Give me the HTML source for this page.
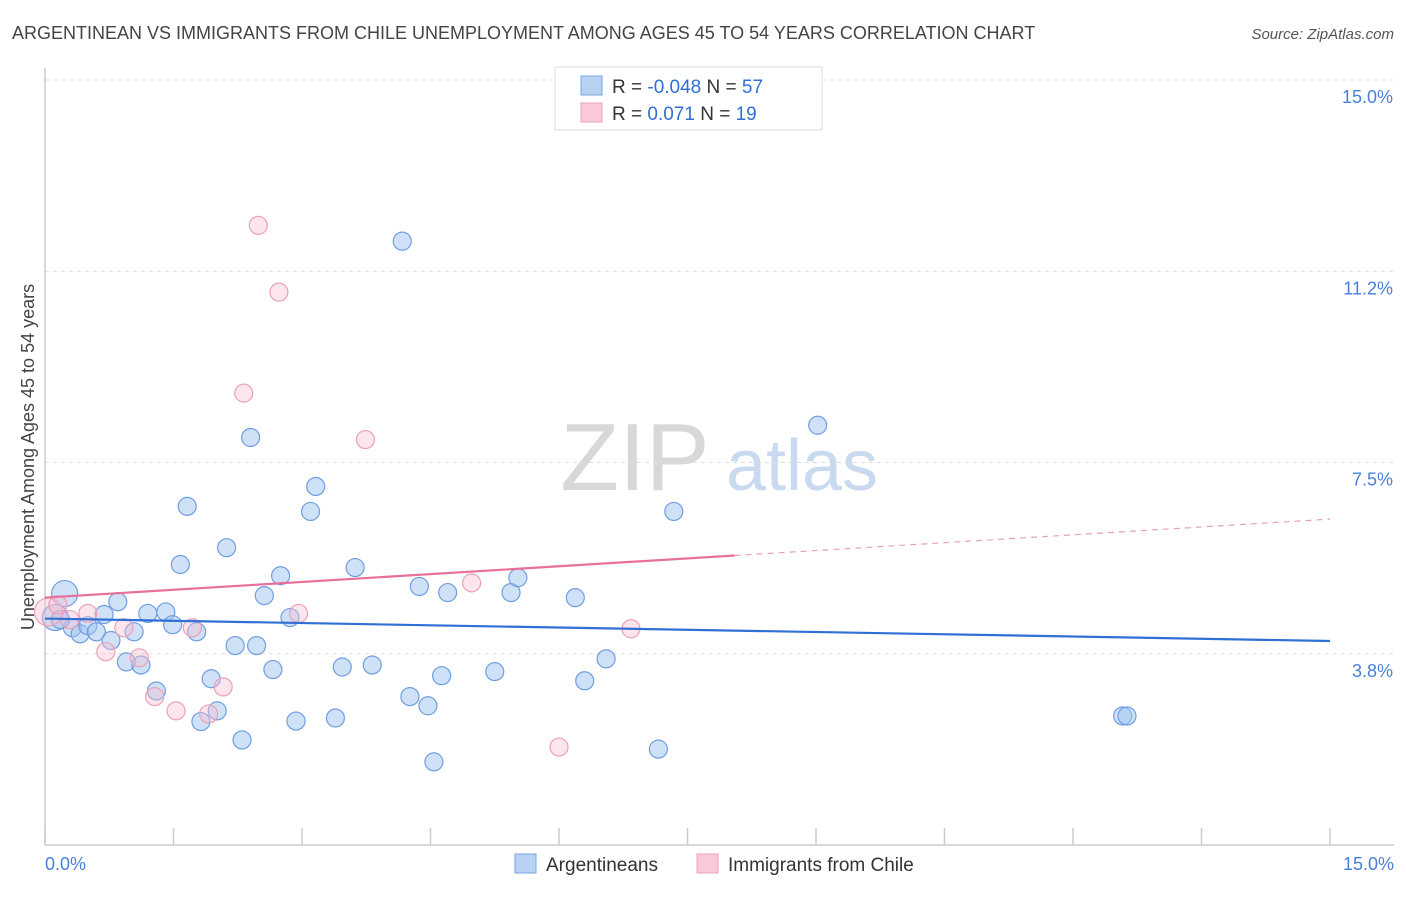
<!DOCTYPE html>
<html><head><meta charset="utf-8">
<style>
body{margin:0;background:#fff;font-family:"Liberation Sans",sans-serif;}
svg text{font-family:"Liberation Sans",sans-serif;}
</style></head>
<body>
<svg id="chart" width="1406" height="892" viewBox="0 0 1406 892" xmlns="http://www.w3.org/2000/svg">
<text x="12" y="39" font-size="18" fill="#444">ARGENTINEAN VS IMMIGRANTS FROM CHILE UNEMPLOYMENT AMONG AGES 45 TO 54 YEARS CORRELATION CHART</text>
<text x="1394" y="39" font-size="15" fill="#555" text-anchor="end" font-style="italic">Source: ZipAtlas.com</text>
<g>
<text x="635" y="490" font-size="96" fill="#d8d8d8" text-anchor="middle" font-family="Liberation Serif, serif">ZIP</text>
<text x="802" y="490" font-size="72" fill="#c9daf0" text-anchor="middle">atlas</text>
</g>
<g id="grid"></g>
<line x1="45" y1="68" x2="45" y2="845" stroke="#ccc" stroke-width="1.5"/>
<line x1="45" y1="845" x2="1394" y2="845" stroke="#ccc" stroke-width="1.5"/>
<text transform="translate(34,457) rotate(-90)" font-size="18" fill="#444" text-anchor="middle">Unemployment Among Ages 45 to 54 years</text>
<text x="45" y="870" font-size="18" fill="#4a80d8">0.0%</text>
<text x="1394" y="870" font-size="18" fill="#4a80d8" text-anchor="end">15.0%</text>
<g id="points"></g>
<g id="lines"></g>
<g>
<rect x="555" y="67" width="267" height="63" fill="#fff" stroke="#ddd"/>
<rect x="581" y="76" width="21" height="19" fill="#b8d2f4" stroke="#7aa5e0"/>
<rect x="581" y="103" width="21" height="19" fill="#f9c9d9" stroke="#eca4bb"/>
<text x="612" y="93" font-size="19" fill="#333">R = <tspan fill="#2f6fd6">-0.048</tspan>   N = <tspan fill="#2f6fd6">57</tspan></text>
<text x="612" y="120" font-size="19" fill="#333">R =   <tspan fill="#2f6fd6">0.071</tspan>   N =  <tspan fill="#2f6fd6">19</tspan></text>
</g>
<g>
<rect x="515" y="854" width="21" height="19" fill="#b8d2f4" stroke="#7aa5e0"/>
<text x="546" y="871" font-size="19" fill="#333">Argentineans</text>
<rect x="697" y="854" width="21" height="19" fill="#f9c9d9" stroke="#eca4bb"/>
<text x="728" y="871" font-size="19" fill="#333">Immigrants from Chile</text>
</g>
</svg>
<script>
const yTicks=[3.75,7.5,11.25,15];
const yTickLabels=["3.8%","7.5%","11.2%","15.0%"];
const xTicks=[0,1.5,3,4.5,6,7.5,9,10.5,12,13.5,15];
const blueX=[0.12,0.23,0.32,0.41,0.50,0.60,0.69,0.77,0.85,0.95,1.04,1.12,1.20,1.30,1.41,1.49,1.58,1.66,1.77,1.82,1.94,2.01,2.12,2.22,2.30,2.40,2.47,2.56,2.66,2.75,2.86,2.93,3.10,3.16,3.39,3.47,3.62,3.82,4.17,4.26,4.37,4.47,4.54,4.63,4.70,5.25,5.44,5.52,6.19,6.30,6.55,7.16,7.34,9.02,12.58,12.63,0.18];
const blueY=[4.46,4.93,4.26,4.14,4.30,4.18,4.52,4.01,4.77,3.59,4.18,3.53,4.54,3.02,4.57,4.32,5.50,6.64,4.18,2.42,3.26,2.63,5.83,3.91,2.06,7.99,3.91,4.89,3.44,5.28,4.46,2.43,6.54,7.03,2.49,3.49,5.44,3.53,11.84,2.91,5.07,2.73,1.63,3.32,4.95,3.40,4.95,5.24,4.85,3.22,3.65,1.88,6.54,8.23,2.53,2.53,4.42];
const pinkX=[0.04,0.15,0.29,0.50,0.71,0.92,1.10,1.28,1.53,1.72,1.91,2.08,2.32,2.49,2.73,2.96,3.74,4.98,6.00,6.84];
const pinkY=[4.57,4.71,4.42,4.54,3.79,4.26,3.67,2.91,2.63,4.26,2.57,3.10,8.86,12.15,10.84,4.54,7.95,5.14,1.92,4.24];
const blueTrend=[4.44,4.00];
const pinkTrend=[4.85,6.39];
const pinkSolidEnd=8.05;
const NS="http://www.w3.org/2000/svg";
const sx=v=>45+v*(1285/15);
const sy=v=>845-v*(765/15);
function mk(tag,attrs,parent){const e=document.createElementNS(NS,tag);for(const k in attrs)e.setAttribute(k,attrs[k]);parent.appendChild(e);return e;}
const grid=document.getElementById('grid');
yTicks.forEach((t,i)=>{
 const l=mk('line',{x1:45,x2:1394,y1:sy(t),y2:sy(t),stroke:'#ddd','stroke-dasharray':'4,4'},grid);
 
 
 const tx=mk('text',{x:1393,y:sy(t)+23,'font-size':18,fill:'#4a80d8','text-anchor':'end'},grid);
 tx.textContent=yTickLabels[i];
 
 
});
xTicks.forEach(t=>{
 const l=mk('line',{x1:sx(t),x2:sx(t),y1:828,y2:845,stroke:'#ccc','stroke-width':1.5},grid);
 
 
});
const pts=document.getElementById('points');
blueX.forEach((x,i)=>{
 const big=i<2;
 const c=mk('circle',{cx:sx(x),cy:sy(blueY[i]),r:big?13:9,fill:'rgba(160,195,240,0.5)',stroke:'#6f9ee0','stroke-width':1.2},pts);
 
 
});
pinkX.forEach((x,i)=>{
 const big=i<1;
 const c=mk('circle',{cx:sx(x),cy:sy(pinkY[i]),r:big?14:9,fill:'rgba(248,190,210,0.4)',stroke:'#eda0b8','stroke-width':1.2},pts);
 
 
});
const lines=document.getElementById('lines');
const bl=mk('line',{x1:sx(0),y1:sy(blueTrend[0]),x2:sx(15),y2:sy(blueTrend[1]),stroke:'#2f6fd6','stroke-width':2.2},lines);


const pAt=x=>pinkTrend[0]+(pinkTrend[1]-pinkTrend[0])*x/15;
const pl=mk('line',{x1:sx(0),y1:sy(pAt(0)),x2:sx(pinkSolidEnd),y2:sy(pAt(pinkSolidEnd)),stroke:'#e8709a','stroke-width':2.2},lines);


const pd=mk('line',{x1:sx(pinkSolidEnd),y1:sy(pAt(pinkSolidEnd)),x2:sx(15),y2:sy(pAt(15)),stroke:'#e8a0b8','stroke-width':1.2,'stroke-dasharray':'6,5'},lines);


</script>
</body></html>
